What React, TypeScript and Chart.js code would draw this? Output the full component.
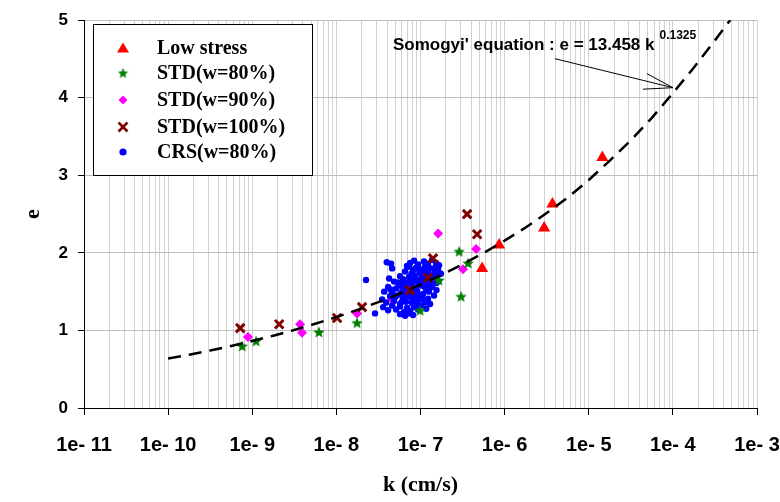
import React, { useEffect, useRef } from 'react';
import { Chart, registerables } from 'chart.js';

Chart.register(...registerables);

// ---------- data ----------
const xTickExponents = [-11, -10, -9, -8, -7, -6, -5, -4, -3];
const yTicks = [0, 1, 2, 3, 4, 5];

const seriesNames = ['Low stress', 'STD(w=80%)', 'STD(w=90%)', 'STD(w=100%)', 'CRS(w=80%)'];

// Somogyi fit curve
const fitK = [1e-10, 1.78e-10, 3.16e-10, 5.62e-10, 1e-9, 1.78e-9, 3.16e-9, 5.62e-9, 1e-8, 1.78e-8, 3.16e-8, 5.62e-8,
  1e-7, 1.78e-7, 3.16e-7, 5.62e-7, 1e-6, 1.78e-6, 3.16e-6, 5.62e-6, 1e-5, 1.78e-5, 3.16e-5, 5.62e-5, 1e-4, 1.78e-4, 3.16e-4, 5.62e-4];
const fitE = [0.637, 0.687, 0.742, 0.800, 0.864, 0.932, 1.006, 1.086, 1.172, 1.265, 1.365, 1.473,
  1.590, 1.716, 1.852, 1.999, 2.158, 2.328, 2.513, 2.712, 2.94, 3.19, 3.45, 3.74, 4.06, 4.39, 4.74, 5.1];

const lowStressK = [5.4e-7, 8.6e-7, 2.95e-6, 3.7e-6, 1.45e-5];
const lowStressE = [1.80, 2.10, 2.32, 2.63, 3.23];

const std80K = [7.6e-10, 1.11e-9, 6.2e-9, 1.76e-8, 9.9e-8, 1.66e-7, 2.88e-7, 3.68e-7, 3.04e-7];
const std80E = [0.80, 0.865, 0.98, 1.10, 1.26, 1.65, 2.02, 1.87, 1.44];

const std90K = [8.9e-10, 3.7e-9, 3.9e-9, 1.76e-8, 1.62e-7, 4.58e-7, 3.2e-7, 4.6e-8, 7.5e-8];
const std90E = [0.915, 1.08, 0.97, 1.22, 2.25, 2.05, 1.79, 1.40, 1.58];

const std100K = [7.2e-10, 2.09e-9, 1.02e-8, 2.02e-8, 1.41e-7, 3.58e-7, 4.71e-7, 1.23e-7, 7.5e-8];
const std100E = [1.03, 1.08, 1.16, 1.30, 1.93, 2.50, 2.24, 1.68, 1.52];

const crsK = [
  3.97e-8, 4.47e-8, 7.52e-8, 8.39e-8, 9.36e-8, 1.10e-7, 1.23e-7, 1.37e-7, 1.53e-7, 1.66e-7,
  4.60e-8, 6.56e-8, 7.32e-8, 8.16e-8, 8.86e-8, 9.89e-8, 1.07e-7, 1.20e-7, 1.33e-7, 1.49e-7, 1.62e-7, 1.75e-7,
  2.25e-8, 4.24e-8, 4.85e-8, 5.72e-8, 6.21e-8, 6.74e-8, 7.32e-8, 7.94e-8, 8.62e-8, 9.36e-8, 1.02e-7, 1.10e-7, 1.20e-7, 1.30e-7, 1.41e-7, 1.53e-7,
  3.70e-8, 4.12e-8, 4.60e-8, 5.13e-8, 5.57e-8, 6.04e-8, 6.56e-8, 7.12e-8, 7.73e-8, 8.39e-8, 9.11e-8, 9.89e-8, 1.07e-7, 1.17e-7, 1.26e-7, 1.37e-7,
  3.50e-8, 3.91e-8, 4.35e-8, 4.85e-8, 5.27e-8, 5.72e-8, 6.21e-8, 6.74e-8, 7.32e-8, 7.94e-8, 8.62e-8, 9.36e-8, 1.02e-7, 1.13e-7, 1.23e-7,
  2.88e-8, 3.60e-8, 4.12e-8, 4.60e-8, 5.13e-8, 5.72e-8, 6.38e-8, 6.93e-8, 7.52e-8, 8.39e-8, 9.36e-8, 1.02e-7, 1.17e-7,
  5.72e-8, 6.56e-8, 7.32e-8, 8.16e-8,
  6.9e-8, 7.8e-8, 8.7e-8, 9.6e-8, 1.05e-7, 1.14e-7, 1.25e-7, 1.44e-7, 1.58e-7, 6.2e-8, 7.0e-8, 8.0e-8, 8.9e-8, 9.7e-8, 1.12e-7,
  1.3e-7, 5.4e-8, 6.0e-8, 6.5e-8, 7.5e-8, 8.2e-8, 5.0e-8, 5.9e-8, 4.4e-8, 1.08e-7, 9.0e-8, 8.0e-8, 6.0e-8, 1.17e-7, 1.5e-7,
  1.30e-7, 1.45e-7, 1.55e-7, 1.62e-7,
];
const crsE = [
  1.88, 1.86, 1.87, 1.90, 1.85, 1.89, 1.86, 1.91, 1.87, 1.84,
  1.80, 1.76, 1.82, 1.78, 1.81, 1.74, 1.79, 1.76, 1.80, 1.75, 1.78, 1.73,
  1.65, 1.67, 1.63, 1.70, 1.66, 1.61, 1.69, 1.64, 1.71, 1.62, 1.67, 1.60, 1.70, 1.63, 1.68, 1.61,
  1.50, 1.56, 1.48, 1.54, 1.58, 1.47, 1.53, 1.57, 1.49, 1.55, 1.51, 1.58, 1.47, 1.53, 1.50, 1.56,
  1.40, 1.36, 1.44, 1.38, 1.45, 1.34, 1.41, 1.37, 1.44, 1.35, 1.42, 1.39, 1.45, 1.36, 1.41,
  1.22, 1.30, 1.26, 1.32, 1.27, 1.31, 1.24, 1.29, 1.25, 1.30, 1.27, 1.32, 1.28,
  1.21, 1.19, 1.22, 1.20,
  1.83, 1.73, 1.66, 1.78, 1.72, 1.83, 1.73, 1.71, 1.70, 1.55, 1.62, 1.58, 1.45, 1.64, 1.56,
  1.58, 1.62, 1.60, 1.45, 1.52, 1.48, 1.43, 1.49, 1.53, 1.40, 1.33, 1.40, 1.37, 1.64, 1.81,
  1.34, 1.45, 1.52, 1.63,
];

const equationText = "Somogyi' equation : e = 13.458 k";
const equationExp = '0.1325';
const arrowTipK = 1.0e-4;
const arrowTipE = 4.13;

// ---------- styles ----------
const C_RED = '#ff0000';
const C_GREEN = '#008000';
const C_MAGENTA = '#ff00ff';
const C_DARKRED = '#800000';
const C_BLUE = '#0000ff';
const SERIF = '"Liberation Serif", "Times New Roman", serif';
const SANS = '"Liberation Sans", Arial, sans-serif';

function makeStar(size: number, color: string) {
  const c = document.createElement('canvas');
  c.width = size;
  c.height = size;
  const g = c.getContext('2d')!;
  const cx = size / 2, cy = size / 2 + size * 0.05, R = size / 2, r = R * 0.45;
  g.beginPath();
  for (let i = 0; i < 10; i++) {
    const a = -Math.PI / 2 + (i * Math.PI) / 5;
    const rr = i % 2 === 0 ? R : r;
    g.lineTo(cx + rr * Math.cos(a), cy + rr * Math.sin(a));
  }
  g.closePath();
  g.fillStyle = color;
  g.fill();
  return c;
}

const pts = (k: number[], e: number[]) => k.map((x, i) => ({ x, y: e[i] }));
const isDecade = (v: number) => Math.abs(Math.log10(v) - Math.round(Math.log10(v))) < 1e-6;

export default function App() {
  const ref = useRef<HTMLCanvasElement | null>(null);

  useEffect(() => {
    if (!ref.current) return;
    const star = makeStar(12, C_GREEN);
    const starSmall = makeStar(11, C_GREEN);

    const legendPlugin = {
      id: 'boxLegend',
      afterDraw(chart: any) {
        const ctx = chart.ctx as CanvasRenderingContext2D;
        ctx.save();
        const bx = 93.5, by = 24.5, bw = 219, bh = 151;
        ctx.fillStyle = '#ffffff';
        ctx.fillRect(bx, by, bw, bh);
        ctx.strokeStyle = '#000';
        ctx.lineWidth = 1;
        ctx.strokeRect(bx, by, bw, bh);
        const mx = 123;
        const rows = [48, 73, 100, 127, 152];
        // triangle
        ctx.fillStyle = C_RED;
        ctx.beginPath();
        ctx.moveTo(mx, rows[0] - 5.5);
        ctx.lineTo(mx - 6, rows[0] + 4.5);
        ctx.lineTo(mx + 6, rows[0] + 4.5);
        ctx.closePath();
        ctx.fill();
        // star
        ctx.drawImage(starSmall, mx - 5.5, rows[1] - 5.5);
        // diamond
        ctx.fillStyle = C_MAGENTA;
        ctx.beginPath();
        ctx.moveTo(mx, rows[2] - 4.5);
        ctx.lineTo(mx + 4.5, rows[2]);
        ctx.lineTo(mx, rows[2] + 4.5);
        ctx.lineTo(mx - 4.5, rows[2]);
        ctx.closePath();
        ctx.fill();
        // cross
        ctx.strokeStyle = C_DARKRED;
        ctx.lineWidth = 2.6;
        ctx.beginPath();
        ctx.moveTo(mx - 4.5, rows[3] - 4.5);
        ctx.lineTo(mx + 4.5, rows[3] + 4.5);
        ctx.moveTo(mx + 4.5, rows[3] - 4.5);
        ctx.lineTo(mx - 4.5, rows[3] + 4.5);
        ctx.stroke();
        // circle
        ctx.fillStyle = C_BLUE;
        ctx.beginPath();
        ctx.arc(mx, rows[4], 3.6, 0, Math.PI * 2);
        ctx.fill();
        // texts
        ctx.fillStyle = '#000';
        ctx.font = `bold 20px ${SERIF}`;
        ctx.textBaseline = 'middle';
        ctx.textAlign = 'left';
        seriesNames.forEach((n, i) => ctx.fillText(n, 157, rows[i] + 1));

        // annotation
        const xs = chart.scales.x, ys = chart.scales.y;
        const tx = xs.getPixelForValue(arrowTipK);
        const ty = ys.getPixelForValue(arrowTipE);
        ctx.font = `bold 17px ${SANS}`;
        ctx.textBaseline = 'alphabetic';
        ctx.fillText(equationText, 393, 50);
        const w = ctx.measureText(equationText).width;
        ctx.font = `bold 12px ${SANS}`;
        ctx.fillText(equationExp, 393 + w + 5, 39);
        ctx.strokeStyle = '#000';
        ctx.lineWidth = 1;
        ctx.beginPath();
        ctx.moveTo(tx - 118, ty - 29);
        ctx.lineTo(tx, ty);
        ctx.moveTo(tx, ty);
        ctx.lineTo(tx - 26, ty - 14);
        ctx.moveTo(tx, ty);
        ctx.lineTo(tx - 30, ty + 1.5);
        ctx.stroke();
        ctx.restore();
      },
    };

    const chart = new Chart(ref.current, {
      type: 'scatter',
      data: {
        datasets: [
          {
            type: 'line',
            label: 'fit',
            data: pts(fitK, fitE),
            borderColor: '#000',
            borderWidth: 2.5,
            borderDash: [13, 8],
            pointRadius: 0,
            fill: false,
            tension: 0,
          } as any,
          {
            label: seriesNames[1],
            data: pts(std80K, std80E),
            pointStyle: star as any,
            pointRadius: 6,
            backgroundColor: C_GREEN,
            borderColor: C_GREEN,
          },
          {
            label: seriesNames[3],
            data: pts(std100K, std100E),
            pointStyle: 'crossRot',
            pointRadius: 6,
            borderWidth: 3,
            borderColor: C_DARKRED,
            backgroundColor: C_DARKRED,
          },
          {
            label: seriesNames[4],
            data: pts(crsK, crsE),
            pointStyle: 'circle',
            pointRadius: 3.2,
            borderWidth: 0,
            backgroundColor: C_BLUE,
            borderColor: C_BLUE,
          },
          {
            label: seriesNames[2],
            data: pts(std90K, std90E),
            pointStyle: 'rectRot',
            pointRadius: 5,
            borderWidth: 0,
            backgroundColor: C_MAGENTA,
            borderColor: C_MAGENTA,
          },
          {
            label: seriesNames[0],
            data: pts(lowStressK, lowStressE),
            pointStyle: 'triangle',
            pointRadius: 7,
            borderWidth: 0,
            backgroundColor: C_RED,
            borderColor: C_RED,
          },
        ],
      },
      options: {
        animation: false,
        responsive: true,
        maintainAspectRatio: false,
        layout: { padding: { left: 0, top: 18, right: 23, bottom: 0 } },
        plugins: { legend: { display: false }, tooltip: { enabled: false } },
        scales: {
          x: {
            type: 'logarithmic',
            min: Math.pow(10, xTickExponents[0]),
            max: Math.pow(10, xTickExponents[xTickExponents.length - 1]),
            afterBuildTicks: (scale: any) => {
              const t: any[] = [];
              for (let i = 0; i < xTickExponents.length; i++) {
                const ex = xTickExponents[i];
                if (i === xTickExponents.length - 1) {
                  t.push({ value: Math.pow(10, ex) });
                } else {
                  for (let m = 1; m <= 9; m++) t.push({ value: m * Math.pow(10, ex) });
                }
              }
              scale.ticks = t;
            },
            afterFit: (scale: any) => {
              scale.height = 94;
              scale.paddingLeft = 0;
              scale.paddingRight = 0;
            },
            ticks: {
              autoSkip: false,
              maxRotation: 0,
              color: '#000',
              font: { family: SANS, size: 20, weight: 'bold' },
              padding: 18,
              callback: (v: any) => {
                const n = Number(v);
                if (!isDecade(n)) return '';
                return `1e- ${-Math.round(Math.log10(n))}`;
              },
            },
            grid: {
              color: '#d2d2d2',
              lineWidth: 1,
              tickLength: 7,
              tickColor: (ctx: any) => (ctx.tick && isDecade(ctx.tick.value) ? '#000' : 'rgba(0,0,0,0)'),
            },
            border: { display: true, color: '#000', width: 1 },
            title: {
              display: true,
              text: 'k (cm/s)',
              color: '#000',
              font: { family: SERIF, size: 22, weight: 'bold' },
              padding: { top: 0, bottom: 3 },
            },
          },
          y: {
            min: yTicks[0],
            max: yTicks[yTicks.length - 1],
            afterBuildTicks: (scale: any) => {
              scale.ticks = yTicks.map((v) => ({ value: v }));
            },
            afterFit: (scale: any) => {
              scale.width = 84;
            },
            ticks: {
              color: '#000',
              font: { family: SANS, size: 17, weight: 'bold' },
              padding: 10,
            },
            grid: { color: '#bdbdbd', lineWidth: 1, tickLength: 6, tickColor: '#000' },
            border: { display: true, color: '#000', width: 1 },
            title: {
              display: true,
              text: 'e',
              color: '#000',
              font: { family: SERIF, size: 22, weight: 'bold' },
              padding: { top: 20, bottom: 0 },
            },
          },
        },
      },
      plugins: [legendPlugin],
    } as any);

    return () => chart.destroy();
  }, []);

  return (
    <div style={{ position: 'fixed', left: 0, top: 0, width: 780, height: 502, background: '#fff' }}>
      <canvas ref={ref} />
    </div>
  );
}
